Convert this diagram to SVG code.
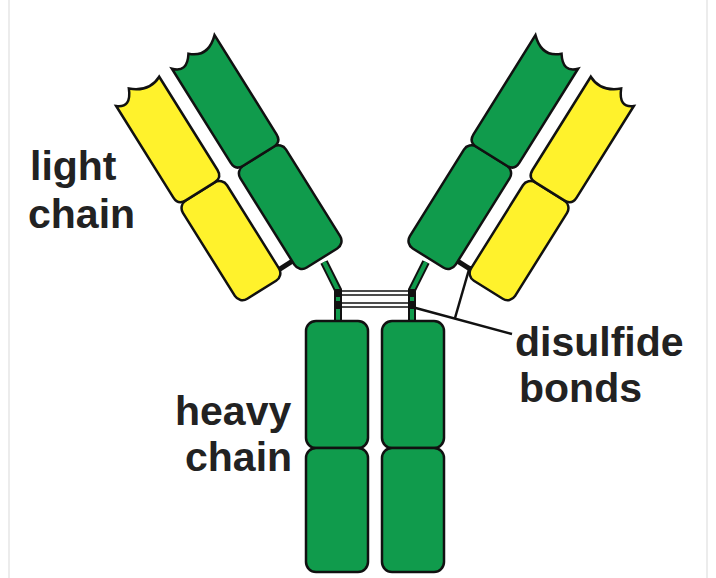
<svg xmlns="http://www.w3.org/2000/svg" width="716" height="578" viewBox="0 0 716 578">
<style>
.g{fill:#109b4c;stroke:#111;stroke-width:2.5}
.y{fill:#fff22c;stroke:#111;stroke-width:2.5}
.t{font-family:"Liberation Sans",Arial,sans-serif;font-weight:bold;font-size:41px;fill:#222}
.ln{stroke:#111;stroke-width:2.5;fill:none}
</style>
<rect width="716" height="578" fill="#fff"/>
<line x1="9" y1="0" x2="9" y2="578" stroke="#e6e6e6" stroke-width="1.5"/>
<line x1="707" y1="0" x2="707" y2="578" stroke="#e6e6e6" stroke-width="1.5"/>
<g id="connectors">
<polyline points="324,262 338,290 338,322" fill="none" stroke="#111" stroke-width="8"/>
<polyline points="324,262 338,290 338,322" fill="none" stroke="#109b4c" stroke-width="4"/>
<polyline points="426,262 412,290 412,322" fill="none" stroke="#111" stroke-width="8"/>
<polyline points="426,262 412,290 412,322" fill="none" stroke="#109b4c" stroke-width="4"/>
<rect x="341" y="291" width="68" height="4" fill="#fff" stroke="#111" stroke-width="1.5"/>
<rect x="341" y="303" width="68" height="4" fill="#fff" stroke="#111" stroke-width="1.5"/>
<rect x="335" y="289" width="7" height="8" fill="#111"/>
<rect x="335" y="301" width="7" height="8" fill="#111"/>
<rect x="408" y="289" width="7" height="8" fill="#111"/>
<rect x="408" y="301" width="7" height="8" fill="#111"/>
<line class="ln" x1="412" y1="307" x2="512" y2="334"/>
<line class="ln" x1="470" y1="266" x2="455" y2="318"/>
</g>
<g id="heavyL"><rect class="g" x="306" y="321" width="62" height="127" rx="10"/><rect class="g" x="306" y="448" width="62" height="124" rx="10"/></g>
<g id="heavyR"><rect class="g" x="382" y="321" width="62" height="127" rx="10"/><rect class="g" x="382" y="448" width="62" height="124" rx="10"/></g>
<g id="armL" transform="translate(322,258) rotate(-32)">
<line x1="-44" y1="-13" x2="-25" y2="-13" stroke="#111" stroke-width="5"/>
<rect class="g" x="-27" y="-120" width="54" height="120" rx="9"/>
<path class="g" d="M-27,-240 Q-16,-228 -5,-244 Q10,-230 27,-246 L27,-129 Q27,-120 18,-120 L-18,-120 Q-27,-120 -27,-129 Z"/>
<rect class="y" x="-94" y="-121" width="52" height="116" rx="9"/>
<path class="y" d="M-94,-238 Q-82,-228 -74,-246 Q-58,-232 -42,-240 L-42,-130 Q-42,-121 -51,-121 L-85,-121 Q-94,-121 -94,-130 Z"/>
</g>
<g id="armR" transform="translate(750,0) scale(-1,1)"><g transform="translate(322,258) rotate(-32)">
<line x1="-44" y1="-13" x2="-25" y2="-13" stroke="#111" stroke-width="5"/>
<rect class="g" x="-27" y="-120" width="54" height="120" rx="9"/>
<path class="g" d="M-27,-240 Q-16,-228 -5,-244 Q10,-230 27,-246 L27,-129 Q27,-120 18,-120 L-18,-120 Q-27,-120 -27,-129 Z"/>
<rect class="y" x="-94" y="-121" width="52" height="116" rx="9"/>
<path class="y" d="M-94,-238 Q-82,-228 -74,-246 Q-58,-232 -42,-240 L-42,-130 Q-42,-121 -51,-121 L-85,-121 Q-94,-121 -94,-130 Z"/>
</g></g>
<g id="labels">
<text class="t" x="30" y="180">light</text>
<text class="t" x="28" y="228">chain</text>
<text class="t" x="175" y="425">heavy</text>
<text class="t" x="185" y="471">chain</text>
<text class="t" x="515" y="356" font-size="43">disulfide</text>
<text class="t" x="519" y="402" font-size="43">bonds</text>
</g>
</svg>
